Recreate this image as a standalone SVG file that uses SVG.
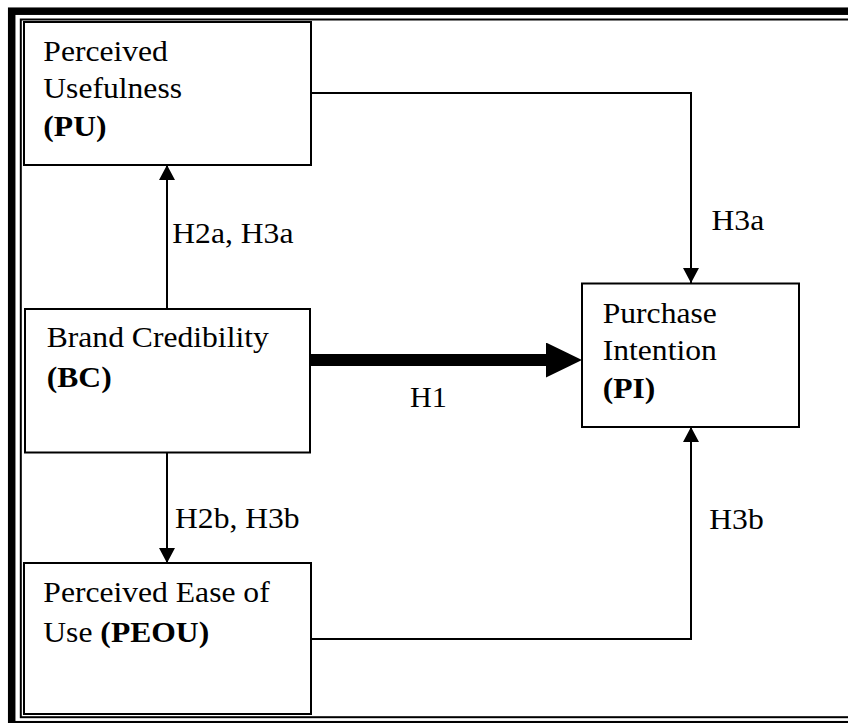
<svg xmlns="http://www.w3.org/2000/svg" width="848" height="723" viewBox="0 0 848 723">
<style>
.box{fill:#fff;stroke:#000;stroke-width:2}
.t{font-family:"Liberation Serif","Times New Roman",serif;font-size:29px;fill:#000}
.b{font-weight:bold}
.c{fill:none;stroke:#000;stroke-width:2}
.frame{fill:none;stroke:#000}
</style>
<defs>
<marker id="ah" markerUnits="userSpaceOnUse" markerWidth="16" markerHeight="16" refX="15" refY="8" orient="auto">
<path d="M0,0 L15,8 L0,16 z" fill="#000"/>
</marker>
<marker id="ahBig" markerUnits="userSpaceOnUse" markerWidth="37" markerHeight="36" refX="4" refY="17.5" orient="auto">
<path d="M0,0 L36,17.5 L0,35 z" fill="#000"/>
</marker>
</defs>
<rect width="848" height="723" fill="#fff"/>
<g id="frame">
<rect class="frame" x="11.7" y="11.2" width="900" height="713.5" stroke-width="7.5"/>
<rect class="frame" x="20.8" y="19.5" width="880" height="697.7" stroke-width="2"/>
</g>
<g id="connectors">
<path class="c" d="M167,309 V165" marker-end="url(#ah)"/>
<path class="c" d="M167,452 V563" marker-end="url(#ah)"/>
<path class="c" d="M311,93 H691 V283" marker-end="url(#ah)"/>
<path class="c" d="M311,639 H691 V427" marker-end="url(#ah)"/>
<path d="M310,360 H550" stroke="#000" stroke-width="12" fill="none" marker-end="url(#ahBig)"/>
<text class="t" transform="translate(172.3,243.3) scale(1.09,1)">H2a, H3a</text>
<text class="t" transform="translate(175,528.3) scale(1.09,1)">H2b, H3b</text>
<text class="t" transform="translate(711.5,230) scale(1.09,1)">H3a</text>
<text class="t" transform="translate(709.3,529.3) scale(1.09,1)">H3b</text>
<text class="t" transform="translate(410,407) scale(1.04,1)">H1</text>
</g>
<g id="pu">
<rect class="box" x="24" y="22" width="287" height="143"/>
<text class="t" transform="translate(43.3,61) scale(1.09,1)"><tspan x="0" y="0">Perceived</tspan><tspan x="0" y="37.3">Usefulness</tspan><tspan x="0" y="75" class="b">(PU)</tspan></text>
</g>
<g id="bc">
<rect class="box" x="25" y="309" width="285" height="143.5"/>
<text class="t" transform="translate(46.7,346.7) scale(1.09,1)"><tspan x="0" y="0">Brand Credibility</tspan><tspan x="0" y="40.8" class="b">(BC)</tspan></text>
</g>
<g id="peou">
<rect class="box" x="24" y="563" width="287" height="151"/>
<text class="t" transform="translate(43.3,601.7) scale(1.09,1)"><tspan x="0" y="0">Perceived Ease of</tspan><tspan x="0" y="40">Use <tspan class="b">(PEOU)</tspan></tspan></text>
</g>
<g id="pi">
<rect class="box" x="582" y="283.5" width="217" height="143.5"/>
<text class="t" transform="translate(602.7,322.7) scale(1.09,1)"><tspan x="0" y="0">Purchase</tspan><tspan x="0" y="37.3">Intention</tspan><tspan x="0" y="75.3" class="b">(PI)</tspan></text>
</g>
</svg>
